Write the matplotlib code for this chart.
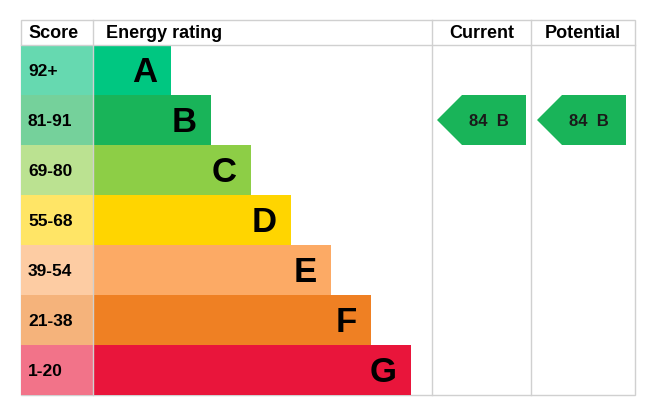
import matplotlib
matplotlib.use("Agg")
import matplotlib.pyplot as plt
from matplotlib.patches import Rectangle, Polygon

bands = ["A", "B", "C", "D", "E", "F", "G"]
ranges = ["92+", "81-91", "69-80", "55-68", "39-54", "21-38", "1-20"]
lows = [92, 81, 69, 55, 39, 21, 1]
colors = ["#00c781", "#19b459", "#8dce46", "#ffd500", "#fcaa65", "#ef8023", "#e9153b"]
light = ["#66d9b0", "#75d19b", "#bbe291", "#ffe566", "#fdcca3", "#f5b37b", "#f27389"]
current = 84
potential = 84

W, H = 655, 403
fig = plt.figure(figsize=(W/100, H/100), dpi=100)
ax = fig.add_axes([0, 0, 1, 1])
ax.set_xlim(0, W); ax.set_ylim(H, 0); ax.axis("off")

x0, x1, x2, x3, x4 = 21, 93, 432, 531, 635
ytop, yh, rh = 20, 45, 50
lc = "#d0d0d0"
font = dict(family="Liberation Sans", fontweight="bold")

# grid lines
ax.add_patch(Rectangle((x0, ytop), x4-x0, yh-ytop+rh*7, fill=False, ec=lc, lw=1))
for x in (x1, x2, x3):
    ax.plot([x, x], [ytop, yh+rh*7], color=lc, lw=1)
ax.plot([x0, x4], [yh, yh], color=lc, lw=1)

ax.text(x0+7, (ytop+yh)/2+1, "Score", va="center", ha="left", fontsize=13, **font)
ax.text(x1+13, (ytop+yh)/2+1, "Energy rating", va="center", ha="left", fontsize=13, **font)
ax.text((x2+x3)/2, (ytop+yh)/2+1, "Current", va="center", ha="center", fontsize=13, **font)
ax.text((x3+x4)/2, (ytop+yh)/2+1, "Potential", va="center", ha="center", fontsize=13, **font)

for i, (b, r) in enumerate(zip(bands, ranges)):
    y = yh + i*rh
    ax.add_patch(Rectangle((x0, y), x1-x0, rh, color=light[i], lw=0))
    ax.text(x0+7, y+rh/2+1, r, va="center", ha="left", fontsize=12.5, **font)
    xe = 171 + 40*i
    ax.add_patch(Rectangle((x1, y), xe-x1, rh, color=colors[i], lw=0))
    ax.text(xe-14, y+rh/2+2, b, va="center", ha="right", fontsize=25, **font)

def band_index(v):
    for i, lo in enumerate(lows):
        if v >= lo:
            return i
    return len(lows)-1

def arrow(xl, xr, v):
    i = band_index(v)
    y = yh + i*rh
    pts = [(xl, y+rh/2), (xl+25, y), (xr, y), (xr, y+rh), (xl+25, y+rh)]
    ax.add_patch(Polygon(pts, closed=True, color=colors[i], lw=0))
    ax.text((xl+xr)/2+7, y+rh/2+1, f"{v}  {bands[i]}", va="center", ha="center",
            fontsize=12, color="#1a1a1a", **font)

arrow(437, 526, current)
arrow(537, 626, potential)

fig.savefig("out.png", dpi=100)
